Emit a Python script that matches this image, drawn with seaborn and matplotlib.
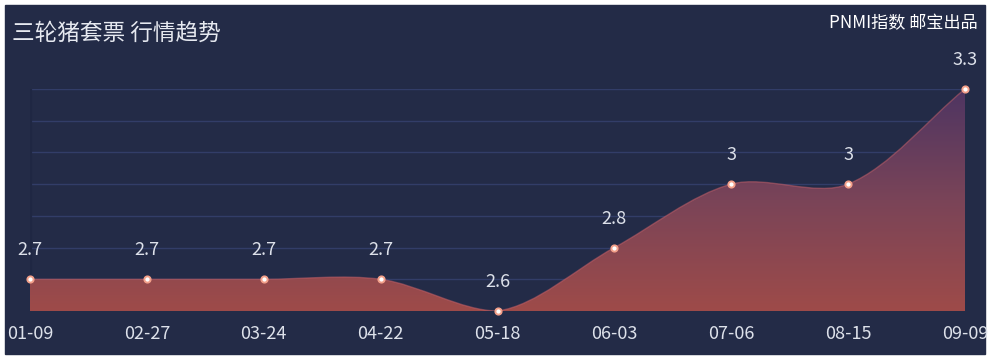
import numpy as np
import matplotlib.pyplot as plt
import seaborn as sns
from matplotlib.path import Path
from matplotlib.patches import PathPatch, Rectangle
from matplotlib.colors import LinearSegmentedColormap

# ── DATA ───────────────────────────────────────────────────────────
dates = ["01-09", "02-27", "03-24", "04-22", "05-18", "06-03", "07-06", "08-15", "09-09"]
prices = [2.7, 2.7, 2.7, 2.7, 2.6, 2.8, 3, 3, 3.3]
price_labels = ["2.7", "2.7", "2.7", "2.7", "2.6", "2.8", "3", "3", "3.3"]
title = "三轮猪套票 行情趋势"
source = "PNMI指数 邮宝出品"

# ── STYLE ──────────────────────────────────────────────────────────
BG = "#232b47"
GRID = "#323d68"
TXT = "#dde1ea"
sns.set_style("dark")
plt.rcParams["font.family"] = ["Noto Sans CJK SC", "DejaVu Sans"]

W, H = 991, 359
fig = plt.figure(figsize=(W / 100, H / 100), dpi=100, facecolor="white")
fig.patches.append(Rectangle((5 / W, 5 / H), 980 / W, 349 / H,
                             transform=fig.transFigure, color=BG, zorder=-10))

ax = fig.add_axes([30 / W, 48 / H, 935 / W, 222 / H])
ax.set_facecolor("none")
x = np.arange(len(dates))
ax.set_xlim(0, len(dates) - 1)
ax.set_ylim(min(prices), max(prices))
ax.set_yticks(np.round(np.arange(min(prices), max(prices) + 0.01, 0.1), 1))
ax.grid(axis="y", color=GRID, lw=1)
ax.grid(axis="x", visible=False)
ax.tick_params(axis="y", left=False, labelleft=False)
ax.set_xticks(x, dates)
ax.tick_params(axis="x", length=0, pad=10, labelsize=13, labelcolor=TXT)
for sp in ax.spines.values():
    sp.set_visible(False)
ax.axvline(0, color="#1f2743", lw=3, zorder=1)


# ── SMOOTH CURVE (echarts-like bezier, computed in pixel space) ────
def smooth_verts(px, s=0.32):
    n = len(px)
    cp0, cp1 = [], []
    for i in range(n):
        p = px[i]
        prev = px[max(i - 1, 0)]
        nxt = px[min(i + 1, n - 1)]
        v = (nxt - prev) * s
        d0 = np.linalg.norm(p - prev)
        d1 = np.linalg.norm(p - nxt)
        tot = d0 + d1
        if tot:
            d0, d1 = d0 / tot, d1 / tot
        cp0.append(p - v * d0)
        cp1.append(p + v * d1)
    verts = [px[0]]
    for i in range(n - 1):
        verts += [cp1[i], cp0[i + 1], px[i + 1]]
    return np.array(verts)


pts_px = ax.transData.transform(np.column_stack([x, prices]))
verts = ax.transData.inverted().transform(smooth_verts(pts_px))
verts[:, 0] = np.clip(verts[:, 0], x.min(), x.max())
verts[:, 1] = np.clip(verts[:, 1], min(prices), max(prices))
codes = [Path.MOVETO] + [Path.CURVE4] * (len(verts) - 1)

# area with vertical gradient
area_verts = np.vstack([verts, [[x.max(), min(prices)], [x.min(), min(prices)], verts[0]]])
area_codes = codes + [Path.LINETO, Path.LINETO, Path.CLOSEPOLY]
area = PathPatch(Path(area_verts, area_codes), facecolor="none", edgecolor="none")
ax.add_patch(area)
cmap = LinearSegmentedColormap.from_list("grad", ["#9e4b49", "#7a4458", "#4e3562"])
img = ax.imshow(np.linspace(0, 1, 256).reshape(-1, 1), cmap=cmap, origin="lower",
                extent=[x.min(), x.max(), min(prices), max(prices)],
                aspect="auto", zorder=2)
img.set_clip_path(area)

ax.add_patch(PathPatch(Path(verts, codes), facecolor="none",
                       edgecolor="#c8626a", lw=1.0, alpha=0.5, zorder=3))

sns.scatterplot(x=x, y=prices, s=20, color="white", edgecolor="#f3a08a",
                linewidth=1.4, zorder=5, clip_on=False, ax=ax, legend=False)

for xi, yi, lab in zip(x, prices, price_labels):
    ax.annotate(lab, (xi, yi), xytext=(0, 29), textcoords="offset pixels",
                ha="center", va="center", fontsize=13, color=TXT)

fig.text(12 / W, 1 - 33 / H, title, ha="left", va="center",
         fontsize=16.3, color="#e6e9f0")
fig.text(978 / W, 1 - 23 / H, source, ha="right", va="center",
         fontsize=12.3, color="white")

fig.savefig("out.png", dpi=100, facecolor="white")
